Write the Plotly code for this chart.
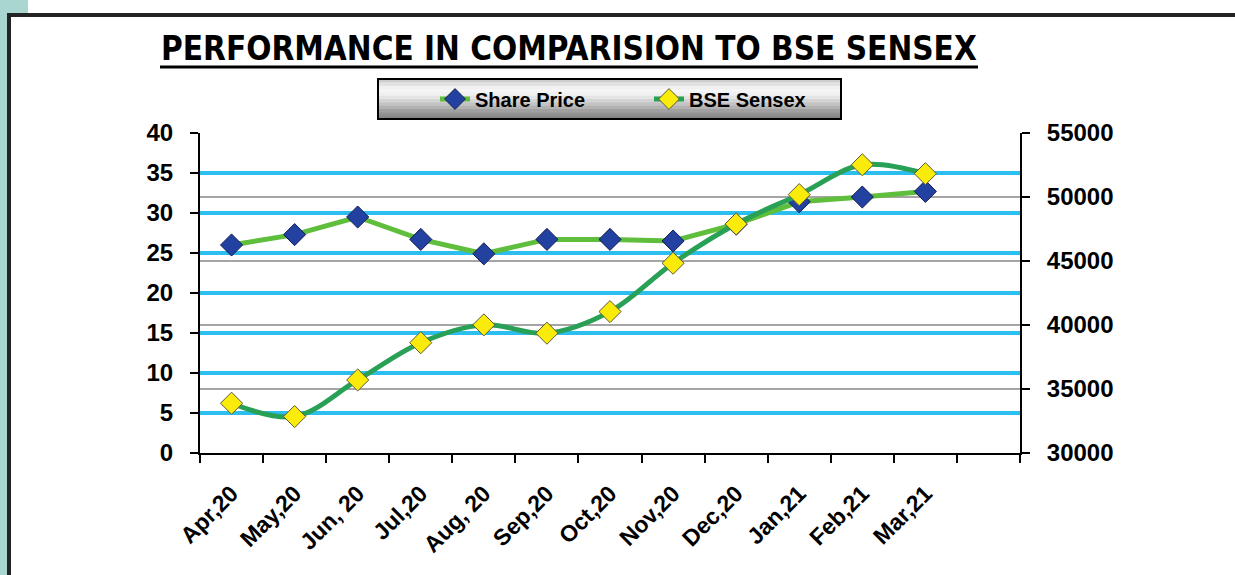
import plotly.graph_objects as go
import numpy as np

# data
months = ["Apr,20", "May,20", "Jun, 20", "Jul,20", "Aug, 20", "Sep,20",
          "Oct,20", "Nov,20", "Dec,20", "Jan,21", "Feb,21", "Mar,21"]
share_price = [26.0, 27.3, 29.5, 26.7, 24.9, 26.7, 26.7, 26.5, 28.6, 31.4, 32.0, 32.7]
bse_sensex = [33887, 32845, 35706, 38617, 40010, 39359, 41048, 44825, 47896, 50184, 52516, 51822]

W, H = 1235, 575
L, R, T, B = 200, 215, 133, 122   # plot area 200..1020 x 133..453

def px(x):
    return (x - L) / (W - L - R)

def py(y):
    return (H - B - y) / (H - T - B)

x_pos = np.arange(len(months))
boundaries = np.arange(len(months) + 2) - 0.5

fig = go.Figure()

fig.add_trace(go.Scatter(
    x=x_pos, y=share_price, name="Share Price", mode="lines+markers",
    line=dict(color="rgb(95,190,60)", width=5),
    marker=dict(symbol="diamond", size=17, color="rgb(35,65,160)",
                line=dict(color="rgb(20,30,80)", width=1)),
))
fig.add_trace(go.Scatter(
    x=x_pos, y=bse_sensex, name="BSE Sensex", mode="lines+markers", yaxis="y2",
    line=dict(color="rgb(40,160,85)", width=5, shape="spline", smoothing=1),
    marker=dict(symbol="diamond", size=17, color="rgb(250,235,10)",
                line=dict(color="rgb(90,90,60)", width=1)),
))

sans = "Liberation Sans, Arial, sans-serif"
narrow = "DejaVu Sans Condensed, Liberation Sans Narrow, Liberation Sans, sans-serif"
tick_font = dict(family=sans, size=24, color="black", weight="bold")

fig.update_layout(
    width=W, height=H,
    margin=dict(l=L, r=R, t=T, b=B),
    paper_bgcolor="white", plot_bgcolor="white",
    showlegend=True,
    legend=dict(orientation="h", x=px(435), xanchor="left", y=py(99), yanchor="middle",
                entrywidth=169, entrywidthmode="pixels",
                bgcolor="rgba(0,0,0,0)", borderwidth=0,
                font=dict(family=sans, size=20, color="black", weight="bold")),
    xaxis=dict(
        range=[-0.5, len(months) + 0.5],
        tickvals=x_pos, ticktext=months, ticks="", tickangle=-45,
        tickfont=dict(family=sans, size=23, color="black", weight="bold"),
        ticklabelstandoff=16,
        minor=dict(tickmode="array", tickvals=boundaries, ticks="outside",
                   ticklen=8, tickwidth=2, tickcolor="black", showgrid=False),
        showgrid=False, zeroline=False,
        showline=True, linecolor="black", linewidth=2,
    ),
    yaxis=dict(
        range=[0, 40], dtick=5, tickfont=tick_font, ticklabelstandoff=12,
        showgrid=True, gridcolor="rgb(45,190,240)", gridwidth=4,
        zeroline=False, showline=True, linecolor="black", linewidth=2,
        ticks="outside", ticklen=8, tickwidth=2, tickcolor="black",
    ),
    yaxis2=dict(
        range=[30000, 55000], dtick=5000, overlaying="y", side="right",
        tickfont=tick_font, tickformat="d", ticklabelstandoff=12,
        showgrid=True, gridcolor="rgb(165,165,165)", gridwidth=1.5,
        zeroline=False, showline=True, linecolor="black", linewidth=2,
        ticks="outside", ticklen=8, tickwidth=2, tickcolor="black",
    ),
)

shapes = []
# teal page strip and frame
shapes.append(dict(type="rect", xref="paper", yref="paper", x0=px(0), x1=px(7), y0=py(0), y1=py(H),
                   fillcolor="rgb(170,214,210)", line_width=0, layer="below"))
shapes.append(dict(type="rect", xref="paper", yref="paper", x0=px(0), x1=px(28), y0=py(0), y1=py(14),
                   fillcolor="rgb(170,214,210)", line_width=0, layer="below"))
shapes.append(dict(type="line", xref="paper", yref="paper", x0=px(7), x1=px(W), y0=py(15), y1=py(15),
                   line=dict(color="rgb(35,35,35)", width=4)))
shapes.append(dict(type="line", xref="paper", yref="paper", x0=px(9), x1=px(9), y0=py(14), y1=py(H),
                   line=dict(color="rgb(35,35,35)", width=4)))

# legend box with a grey gradient
lx0, lx1, ly0, ly1 = 378, 841, 79, 119
grad = [205, 225, 240, 245, 240, 228, 212, 195, 178, 160, 145, 135]
n = len(grad)
for i, g in enumerate(grad):
    shapes.append(dict(type="rect", xref="paper", yref="paper",
                       x0=px(lx0), x1=px(lx1),
                       y0=py(ly0 + (ly1 - ly0) * i / n), y1=py(ly0 + (ly1 - ly0) * (i + 1) / n + 0.5),
                       fillcolor=f"rgb({g},{g},{g})", line_width=0))
shapes.append(dict(type="rect", xref="paper", yref="paper", x0=px(lx0), x1=px(lx1), y0=py(ly0), y1=py(ly1),
                   line=dict(color="black", width=2)))

# title underline
shapes.append(dict(type="line", xref="paper", yref="paper", x0=px(160), x1=px(978), y0=py(67), y1=py(67),
                   line=dict(color="black", width=3)))

fig.update_layout(shapes=shapes)

fig.add_annotation(
    xref="paper", yref="paper", x=px(569), y=py(48), xanchor="center", yanchor="middle",
    text="PERFORMANCE IN COMPARISION TO BSE SENSEX", showarrow=False,
    font=dict(family=narrow, size=33, color="black", weight="bold"),
)

# page body has an 8px default margin; drop it so the figure sits at 0,0
fig.write_html("out.html", config={"displayModeBar": False},
               post_script="document.body.style.margin='0';")
